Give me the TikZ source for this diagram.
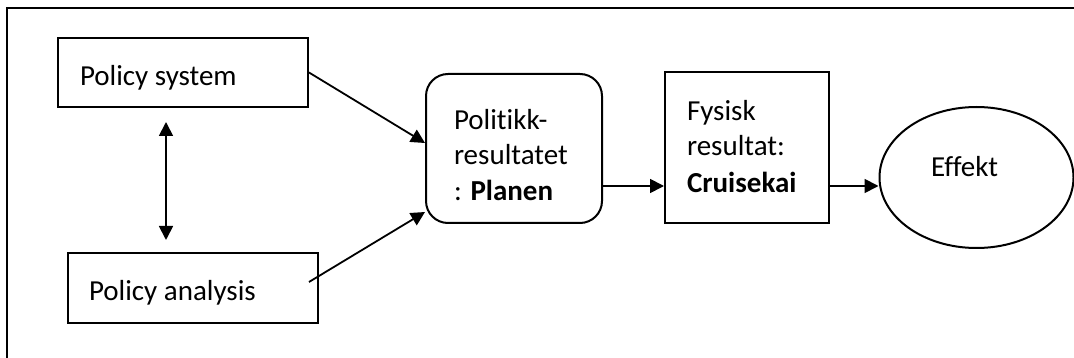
\documentclass[tikz,border=0pt]{standalone}
\usepackage{fontspec}
\setmainfont[Ligatures=NoCommon]{Carlito}
\usetikzlibrary{arrows.meta,calc,shapes.geometric}
\begin{document}
\begin{tikzpicture}[x=1pt,y=-1pt,line width=2pt,
  >={Triangle[length=14pt,width=14pt]},
  box/.style={draw,rectangle,inner sep=0pt,anchor=north west},
  lbl/.style={anchor=base west,inner sep=0pt,font=\fontsize{29}{35}\selectfont},
  arr/.style={->,line width=1.8pt}]
\useasboundingbox (0,0) rectangle (1074,358);
\clip (0,0) rectangle (1074,358);
\draw (7,8) rectangle (1100,400);
\node[box,minimum width=250pt,minimum height=69pt] (ps) at (57,37) {};
\node[box,minimum width=250pt,minimum height=70pt] (pa) at (67,252) {};
\node[box,rounded corners=22pt,minimum width=176pt,minimum height=149pt] (pr) at (425,73) {};
\node[box,minimum width=164pt,minimum height=151pt] (fr) at (664,71) {};
\node[draw,ellipse,minimum width=194pt,minimum height=141pt,inner sep=0pt] (ef) at (976.5,177.5) {};
\node[lbl] (t1) at (79,86) {Policy system};
\node[lbl] (t2) at (88,300) {Policy analysis};
\node[lbl] (t3) at (453,130) {Politikk-};
\node[lbl] (t4) at (453,165) {resultatet};
\node[lbl] (t5) at (453,201) {: \textbf{Planen}};
\node[lbl] (t6) at (686,121) {Fysisk};
\node[lbl] (t7) at (686,156) {resultat:};
\node[lbl] (t8) at (686,193) {\textbf{Cruisekai}};
\node[lbl] (t9) at (930,177) {Effekt};
\draw[arr] (ps.east) -- ($(pr.north west)+(0,70)$);
\draw[arr] ($(pa.east)+(-10,-6)$) -- ($(pr.south west)+(0,-12)$);
\draw[arr,<->] ($(ps.south west)+(109,14)$) -- ($(pa.north west)+(99,-12)$);
\draw[arr] ($(pr.east)+(0,37.5)$) -- ($(fr.west)+(0,38.5)$);
\coordinate (fe) at ($(fr.east)+(0,38.5)$);
\draw[arr] (fe) -- (fe -| ef.west);
\end{tikzpicture}
\end{document}
